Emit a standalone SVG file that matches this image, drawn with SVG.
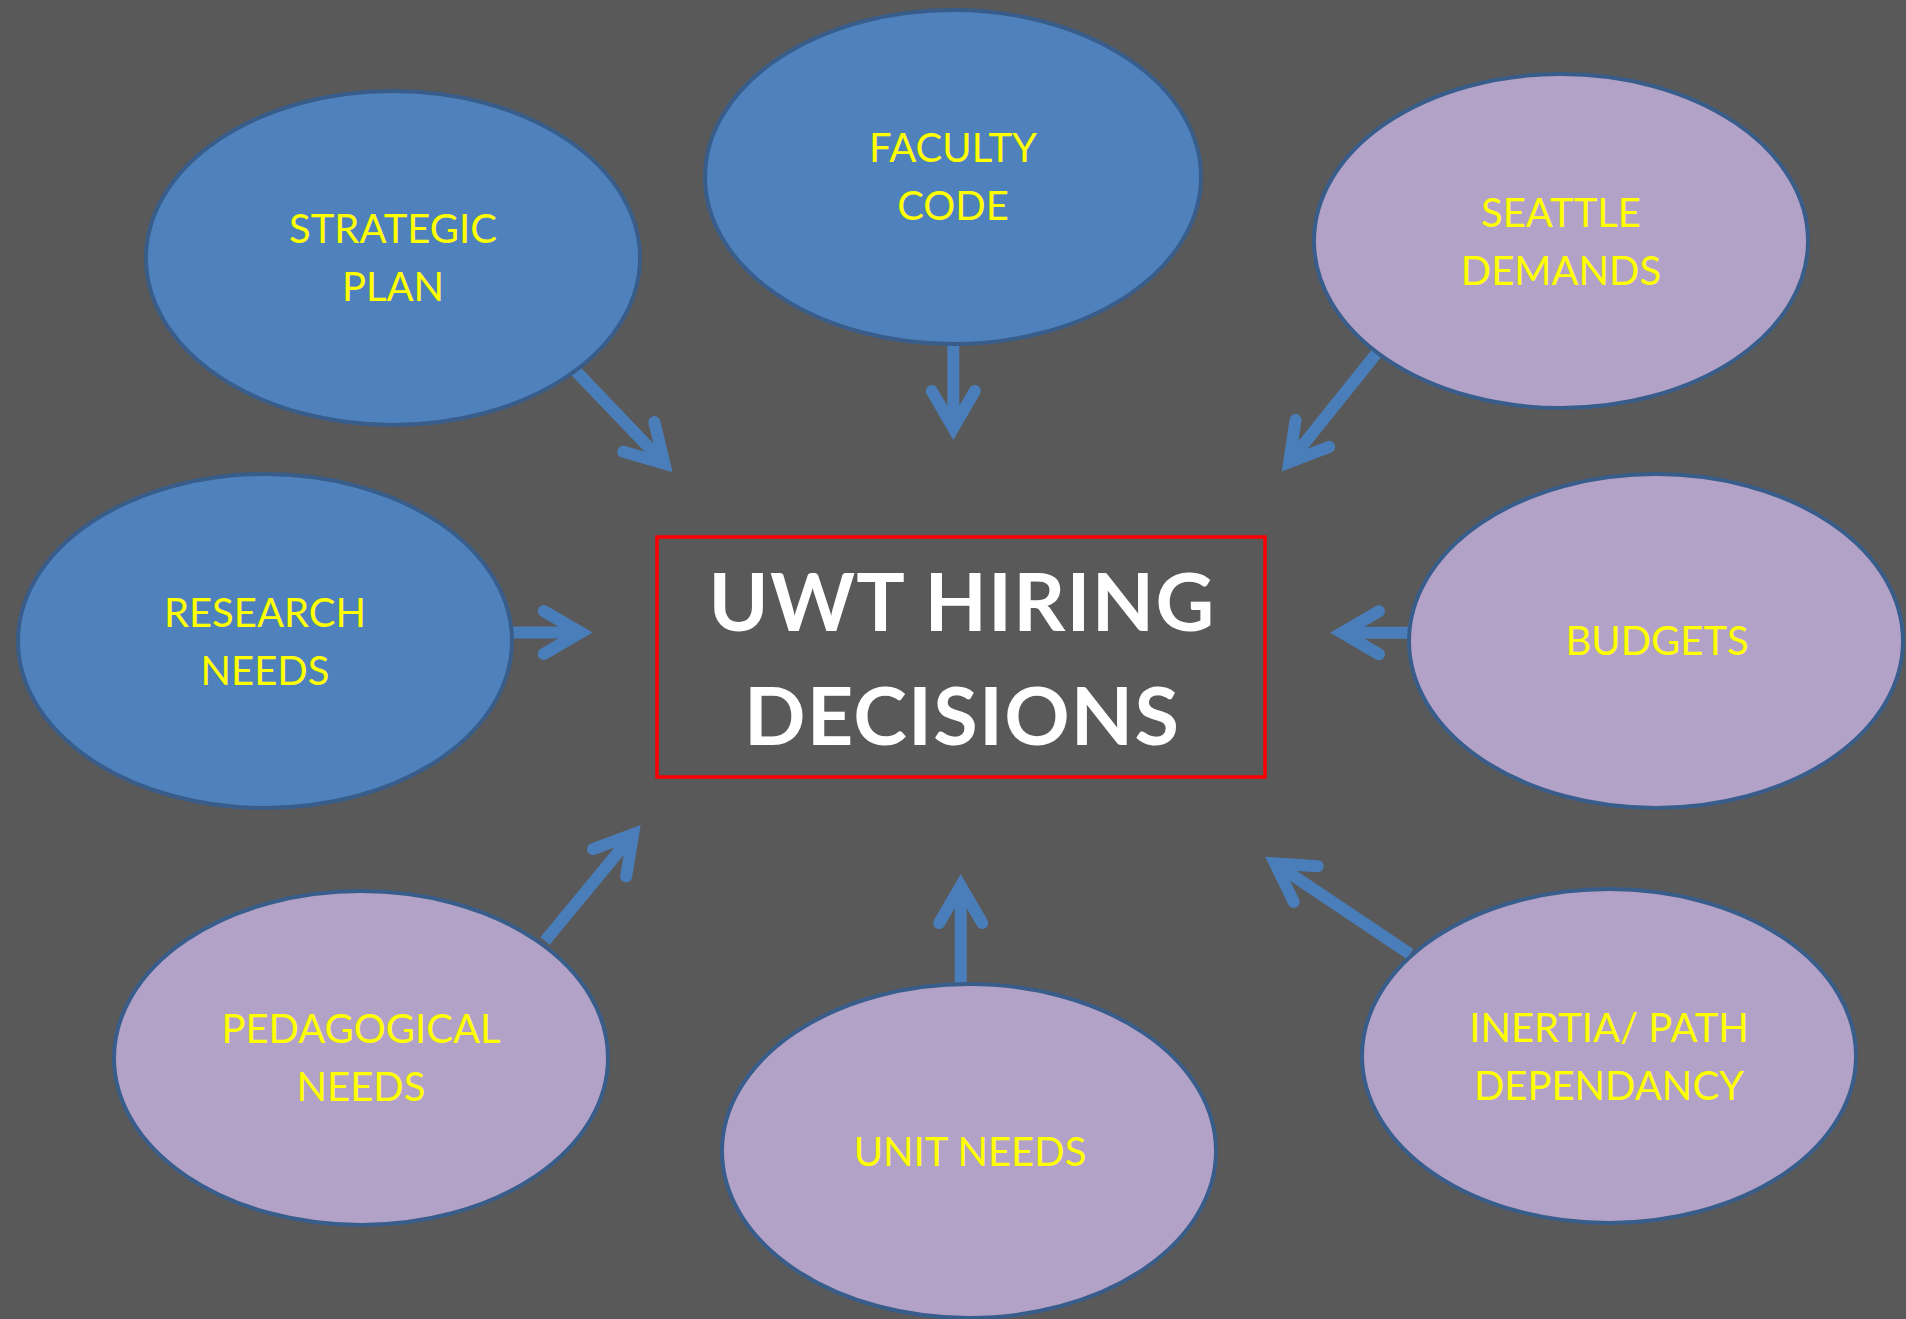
<svg xmlns="http://www.w3.org/2000/svg" width="1906" height="1319" viewBox="0 0 1906 1319">
<defs>
<style>
.bg{fill:#595959}
.blue{fill:#4f81bd;stroke:#385d8a;stroke-width:4}
.purple{fill:#b3a2c7;stroke:#385d8a;stroke-width:4}
.lbl{font-family:Lato,"Liberation Sans",sans-serif;font-size:40px;fill:#ffff00;text-anchor:middle}
.title{font-family:Lato,"Liberation Sans",sans-serif;font-size:81px;font-weight:700;fill:#ffffff;text-anchor:middle;letter-spacing:1.2px}
.conn{fill:none;stroke:#4a7ebb;stroke-width:12;marker-end:url(#ah)}
</style>
<marker id="ah" markerUnits="userSpaceOnUse" orient="auto" refX="0" refY="0" markerWidth="10" markerHeight="10" overflow="visible">
<path d="M -37 -21.5 L 0 0 L -37 21.5" fill="none" stroke="#4a7ebb" stroke-width="12" stroke-linecap="round" stroke-linejoin="miter" stroke-miterlimit="10"/>
</marker>
</defs>
<rect class="bg" x="0" y="0" width="1906" height="1319"/>
<g id="connectors">
<path class="conn" d="M 570 365 L 664.4 463.6"/>
<path class="conn" d="M 953.3 335 L 953.3 428"/>
<path class="conn" d="M 1380 349 L 1289.2 462.3"/>
<path class="conn" d="M 505 632.5 L 580.7 632.5"/>
<path class="conn" d="M 1420 632.7 L 1342 632.7"/>
<path class="conn" d="M 545 941 L 633.1 834.2"/>
<path class="conn" d="M 960.7 992 L 960.7 886"/>
<path class="conn" d="M 1410 954 L 1275 863.4"/>
</g>
<g id="strategic-plan">
<ellipse class="blue" cx="393" cy="258" rx="247" ry="167"/>
<text class="lbl" x="393" y="243">STRATEGIC</text>
<text class="lbl" x="393" y="301">PLAN</text>
</g>
<g id="faculty-code">
<ellipse class="blue" cx="953" cy="177" rx="248" ry="167"/>
<text class="lbl" x="953" y="162">FACULTY</text>
<text class="lbl" x="953" y="220">CODE</text>
</g>
<g id="seattle-demands">
<ellipse class="purple" cx="1561" cy="241" rx="247" ry="167"/>
<text class="lbl" x="1561" y="227">SEATTLE</text>
<text class="lbl" x="1561" y="285">DEMANDS</text>
</g>
<g id="research-needs">
<ellipse class="blue" cx="265" cy="641" rx="247" ry="167"/>
<text class="lbl" x="265" y="627">RESEARCH</text>
<text class="lbl" x="265" y="685">NEEDS</text>
</g>
<g id="budgets">
<ellipse class="purple" cx="1656" cy="641" rx="247" ry="167"/>
<text class="lbl" x="1657" y="655">BUDGETS</text>
</g>
<g id="pedagogical-needs">
<ellipse class="purple" cx="361" cy="1058" rx="247" ry="167"/>
<text class="lbl" x="361" y="1043">PEDAGOGICAL</text>
<text class="lbl" x="361" y="1101">NEEDS</text>
</g>
<g id="unit-needs">
<ellipse class="purple" cx="969" cy="1151" rx="247" ry="167"/>
<text class="lbl" x="970" y="1166">UNIT NEEDS</text>
</g>
<g id="inertia">
<ellipse class="purple" cx="1609" cy="1056" rx="247" ry="167"/>
<text class="lbl" x="1609" y="1042">INERTIA/ PATH</text>
<text class="lbl" x="1609" y="1100">DEPENDANCY</text>
</g>
<g id="uwt-hiring-decisions">
<rect x="657" y="537" width="608" height="240" fill="none" stroke="#ff0000" stroke-width="3.5"/>
<text class="title" x="962" y="631">UWT HIRING</text>
<text class="title" x="962" y="745">DECISIONS</text>
</g>
</svg>
